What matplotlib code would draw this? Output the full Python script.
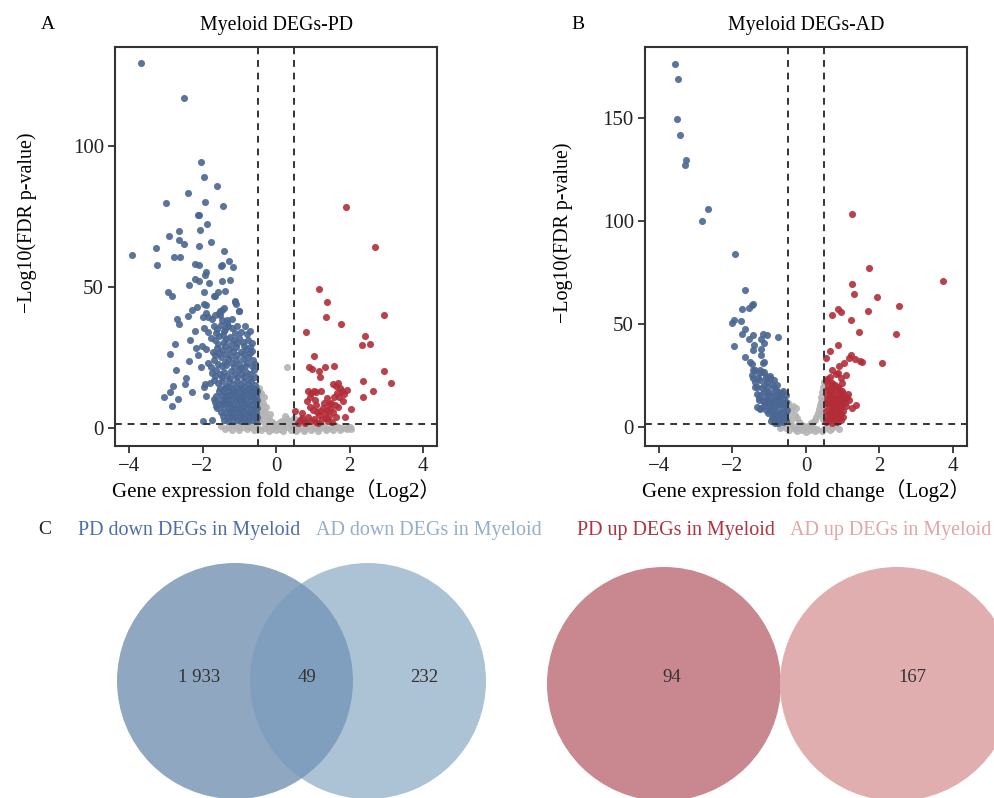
import matplotlib
matplotlib.use("Agg")
import matplotlib.pyplot as plt
from matplotlib.patches import Circle

plt.rcParams['font.family'] = ['Liberation Serif', 'Noto Sans CJK SC', 'DejaVu Sans']

# ---- panel A: PD volcano (log2 fold change, -log10 FDR) ----
pd_down = [
    (-3.66, 129.3), (-2.49, 116.9), (-2.04, 94.3), (-1.97, 89.1), (-1.61, 85.6), (-2.39, 83.2),
    (-2.99, 79.7), (-1.94, 80.1), (-1.43, 78.8), (-2.13, 75.5), (-2.10, 75.6), (-1.89, 72.2),
    (-2.64, 69.7), (-2.07, 70.2), (-2.92, 68.0), (-2.64, 66.7), (-2.49, 65.2), (-1.76, 66.0),
    (-2.09, 64.6), (-3.26, 63.7), (-1.41, 62.8), (-3.91, 61.3), (-2.78, 60.6), (-2.60, 60.7),
    (-1.28, 59.3), (-3.24, 57.8), (-2.20, 58.2), (-2.10, 57.7), (-1.50, 57.5), (-1.46, 57.9),
    (-1.17, 57.0), (-1.90, 55.1), (-1.93, 54.3), (-2.21, 52.9), (-2.09, 52.2), (-1.46, 52.1),
    (-1.25, 52.5), (-1.82, 51.3), (-2.37, 50.7), (-1.57, 48.3), (-1.39, 48.5), (-1.97, 48.0),
    (-2.94, 48.1), (-2.83, 46.8), (-1.68, 46.6), (-1.65, 46.9), (-1.12, 44.6), (-1.09, 44.0),
    (-1.91, 43.6), (-2.16, 42.8), (-2.29, 41.7), (-1.52, 41.6), (-1.00, 41.5),
    (-2.69, 38.7), (-2.63, 36.7), (-2.40, 39.7), (-2.20, 34.5), (-2.35, 31.0), (-2.75, 29.7),
    (-2.88, 26.2), (-2.72, 20.6), (-2.45, 17.6), (-2.48, 15.6), (-2.79, 15.0), (-2.88, 12.7),
    (-3.05, 10.9), (-2.84, 7.8), (-2.66, 10.2), (-2.28, 12.7), (-2.37, 23.9), (-2.17, 28.3),
    (-2.01, 29.2), (-2.13, 25.8), (-1.91, 11.3), (-1.99, 2.5), (-1.73, 2.8), (-1.41, 2.8),
    (-1.93, 15.6), (-1.95, 14.6), (-2.04, 21.7), (-1.66, 9.3), (-1.64, 7.8),
    (-1.97, 44.0), (-1.91, 40.9), (-1.99, 39.3), (-1.84, 39.3), (-1.75, 38.5), (-1.66, 40.0),
    (-1.54, 40.9), (-1.48, 41.8), (-1.41, 42.6), (-1.52, 40.0), (-1.48, 38.3), (-1.34, 38.3),
    (-1.20, 38.5), (-1.11, 44.9), (-1.01, 41.6),
    (-1.95, 35.3), (-1.85, 34.0), (-1.70, 36.0), (-1.60, 35.2), (-1.50, 36.5), (-1.40, 35.0),
    (-1.30, 36.0), (-1.20, 35.5), (-1.05, 36.2), (-0.85, 36.0), (-0.70, 34.5), (-1.78, 32.0),
    (-1.65, 31.0), (-1.55, 32.5), (-1.45, 33.0), (-1.35, 31.5), (-1.25, 32.2), (-1.15, 31.0),
    (-1.00, 32.0), (-0.90, 30.5), (-0.75, 31.0), (-0.65, 30.0), (-1.90, 28.0), (-1.72, 27.0),
    (-1.60, 28.5), (-1.48, 27.5), (-1.38, 29.0), (-1.28, 28.0), (-1.18, 27.2), (-1.08, 28.6),
    (-0.95, 27.0), (-0.82, 28.0), (-0.70, 26.5), (-1.85, 23.0), (-1.70, 24.0), (-1.58, 22.5),
    (-1.50, 25.0), (-1.40, 23.5), (-1.30, 24.5), (-1.20, 23.0), (-1.10, 24.0), (-1.00, 22.5),
    (-0.90, 24.5), (-0.78, 23.0), (-0.62, 24.0), (-1.75, 19.5), (-1.62, 20.5), (-1.52, 19.0),
    (-1.42, 20.0), (-1.33, 18.5), (-1.22, 20.2), (-1.12, 19.0), (-1.02, 20.5), (-0.92, 19.2),
    (-0.82, 20.0), (-0.70, 19.0), (-0.60, 20.5), (-1.80, 16.0), (-1.68, 17.0), (-1.58, 15.8),
    (-1.47, 16.5), (-1.37, 15.0), (-1.27, 16.8), (-1.17, 15.5), (-1.07, 16.5), (-0.97, 15.3),
    (-0.87, 16.8), (-0.77, 15.5), (-0.67, 16.5), (-0.57, 15.2),
    # extra mid-cloud points
    (-1.62, 33.8), (-1.42, 34.4), (-1.12, 33.6), (-0.95, 34.0), (-0.80, 33.2), (-1.32, 37.2),
    (-1.58, 29.8), (-1.42, 30.6), (-1.22, 29.6), (-1.05, 30.2), (-0.86, 29.2), (-0.72, 28.8),
    (-1.66, 25.8), (-1.55, 26.6), (-1.36, 26.2), (-1.22, 25.4), (-1.05, 26.0), (-0.88, 26.2),
    (-0.75, 25.2), (-0.64, 27.2), (-1.78, 21.5), (-1.46, 21.8), (-1.35, 22.2), (-1.15, 21.6),
    (-0.96, 21.2), (-0.84, 21.8), (-0.66, 22.0), (-0.56, 22.6), (-1.65, 18.4), (-1.46, 18.0),
    (-1.26, 17.8), (-1.06, 18.0), (-0.88, 18.2), (-0.72, 17.6), (-0.56, 18.0),
    (-1.52, 14.3), (-1.40, 14.0), (-1.30, 14.4), (-1.20, 13.9), (-1.08, 14.2), (-0.96, 14.0),
    (-0.86, 14.4), (-0.74, 14.0), (-0.64, 14.3), (-0.54, 13.9),
    (-1.55, 13.1), (-1.42, 12.8), (-1.31, 13.3), (-1.19, 12.9), (-1.11, 13.2), (-0.99, 12.7),
    (-0.91, 13.4), (-0.79, 12.9), (-0.71, 13.1), (-0.61, 12.8), (-0.52, 13.2),
    (-1.62, 11.4), (-1.48, 11.7), (-1.36, 11.3), (-1.25, 11.6), (-1.14, 11.4), (-1.06, 11.7),
    (-0.94, 11.3), (-0.86, 11.6), (-0.74, 11.4), (-0.66, 11.7), (-0.55, 11.3),
    (-1.70, 10.1), (-1.51, 9.9), (-1.39, 10.2), (-1.31, 9.8), (-1.19, 10.1), (-1.09, 9.9),
    (-1.01, 10.2), (-0.89, 9.8), (-0.81, 10.1), (-0.69, 9.9), (-0.61, 10.2), (-0.52, 9.8),
    (-1.56, 8.6), (-1.44, 8.4), (-1.36, 8.7), (-1.24, 8.4), (-1.16, 8.6), (-1.04, 8.3),
    (-0.96, 8.7), (-0.84, 8.4), (-0.76, 8.6), (-0.64, 8.3), (-0.55, 8.6),
    (-1.60, 7.0), (-1.41, 7.2), (-1.29, 6.9), (-1.21, 7.1), (-1.09, 6.8), (-1.01, 7.2),
    (-0.89, 6.9), (-0.81, 7.1), (-0.69, 6.8), (-0.61, 7.2), (-0.52, 6.9),
    (-1.50, 5.6), (-1.36, 5.4), (-1.24, 5.7), (-1.16, 5.4), (-1.04, 5.6), (-0.96, 5.3),
    (-0.84, 5.7), (-0.76, 5.4), (-0.64, 5.6), (-0.55, 5.4),
    (-1.45, 4.1), (-1.31, 3.9), (-1.19, 4.2), (-1.11, 3.9), (-0.99, 4.1), (-0.91, 3.8),
    (-0.79, 4.2), (-0.71, 3.9), (-0.59, 4.1), (-0.52, 3.8),
    (-1.30, 2.6), (-1.16, 2.4), (-1.04, 2.7), (-0.96, 2.4), (-0.84, 2.6), (-0.76, 2.3),
    (-0.64, 2.7), (-0.55, 2.4),
]
pd_up = [
    (1.90, 78.4), (2.68, 64.3), (1.18, 49.2), (1.39, 44.7), (1.35, 39.2), (1.77, 36.9),
    (2.94, 40.1), (0.82, 33.9), (2.41, 32.5), (2.33, 29.4), (2.57, 29.8), (1.04, 25.4),
    (0.91, 21.7), (0.97, 20.8), (1.33, 21.5), (1.58, 22.1), (1.18, 20.1), (1.20, 18.0),
    (2.94, 20.1), (3.13, 15.8), (2.38, 16.8), (2.63, 13.0), (2.38, 10.9), (2.03, 6.6),
    (1.88, 3.8), (0.52, 5.9),
    (0.88, 13.2), (0.95, 12.5), (1.02, 13.0), (1.10, 12.8), (1.22, 13.0), (0.92, 11.0),
    (1.05, 10.0), (0.85, 9.5),
    (1.55, 15.5), (1.62, 14.8), (1.70, 15.8), (1.75, 14.0), (1.80, 13.2), (1.65, 12.5),
    (1.85, 12.0), (1.92, 13.5), (1.58, 11.0), (1.72, 10.8), (1.82, 9.5), (1.50, 9.0),
    (1.60, 8.0), (1.45, 8.5), (1.68, 7.5), (1.40, 10.5),
    (0.65, 2.8), (0.72, 3.5), (0.80, 2.2), (0.88, 4.0), (0.95, 2.5), (1.02, 3.2),
    (1.10, 2.0), (1.18, 4.5), (1.25, 3.0), (1.32, 5.0), (1.38, 6.2), (1.28, 7.0),
    (1.20, 6.0), (1.12, 5.5), (1.00, 6.5), (0.92, 7.5), (1.35, 3.5), (1.45, 4.2),
    (1.55, 5.5), (1.62, 4.0), (1.48, 6.8), (1.08, 8.3), (1.30, 8.8), (0.78, 1.8),
    (0.60, 1.9), (1.42, 2.5), (1.52, 2.0), (0.70, 5.2), (1.15, 1.8),
]
pd_ns = [
    (0.29, 21.5), (-0.45, 14.0), (-0.42, 11.5), (-0.45, 9.5), (-0.40, 8.0), (-0.35, 6.5),
    (-0.30, 5.5), (-0.42, 4.5), (-0.25, 4.0), (-0.20, 3.0), (-0.15, 2.5), (-0.10, 2.0),
    (-0.05, 1.5), (0.00, 1.0), (0.05, 1.5), (0.10, 2.0), (0.15, 2.5), (0.20, 2.0),
    (0.30, 3.0), (0.35, 2.5), (0.45, 2.0), (0.48, 3.5), (-0.48, 6.0), (-0.38, 3.0),
    (-0.46, 2.5), (-0.30, 1.5), (0.40, 1.0), (-0.35, 9.0), (-0.28, 7.5),
    (-1.50, 0.6), (-1.30, 0.3), (-1.10, 0.8), (-0.90, 0.2), (-0.70, 0.5), (-0.50, 0.1),
    (-0.30, 0.0), (-0.10, -0.3), (0.10, -0.2), (0.30, 0.2), (0.50, 0.4), (0.70, 0.1),
    (0.90, 0.6), (1.10, 0.3), (1.30, 0.8), (1.50, 0.2), (1.70, 0.5), (1.90, 0.1),
    (2.00, 0.3), (0.60, -0.5), (0.80, -0.3), (1.00, -0.1), (1.20, 0.0), (1.40, -0.2),
    (0.20, 0.5), (-0.20, 0.4), (-0.60, 0.9), (-0.80, 1.0), (-1.00, 0.3), (-1.20, 0.9),
    (1.60, 0.9), (1.80, -0.1), (2.05, -0.2), (1.93, -0.3),
    (-1.40, -0.4), (-1.20, -0.6), (-1.00, -0.8), (-0.80, -0.5), (-0.60, -0.9), (-0.40, -0.7),
    (-0.20, -1.0), (0.00, -0.8), (0.20, -1.1), (0.40, -0.9), (0.55, -1.0), (0.75, -1.2),
    (0.95, -0.9), (1.15, -1.1), (1.35, -0.8), (1.55, -0.6), (1.75, -0.9), (-0.15, 5.0),
    (0.25, 4.2), (-0.40, 12.5), (-0.33, 11.0),
]

# ---- panel B: AD volcano ----
ad_down = [
    (-3.56, 176.1), (-3.49, 168.9), (-3.50, 149.5), (-3.43, 141.9), (-3.27, 129.6),
    (-3.29, 127.3), (-2.67, 106.0), (-2.82, 100.0), (-1.94, 84.0), (-1.66, 66.3),
    (-1.43, 59.6), (-1.46, 59.2), (-1.55, 57.6), (-1.73, 57.1), (-1.97, 51.9), (-2.00, 50.6),
    (-1.77, 51.6), (-1.66, 47.7), (-1.74, 45.1), (-1.43, 44.5), (-1.17, 45.1), (-1.05, 44.5),
    (-0.76, 43.7), (-1.54, 42.7), (-1.23, 42.6), (-1.13, 40.6), (-1.97, 39.3), (-1.41, 39.7),
    (-1.43, 37.4), (-1.22, 37.7), (-1.65, 33.8), (-1.22, 34.8), (-1.13, 31.7), (-1.52, 31.7),
    (-1.47, 30.4), (-1.43, 27.7), (-1.26, 27.9), (-1.13, 26.8), (-1.18, 31.2),
    (-1.47, 25.2), (-1.38, 27.7), (-1.29, 26.1), (-1.20, 26.9),
    (-1.38, 22.0), (-1.24, 22.8), (-1.06, 22.0), (-0.97, 23.6), (-0.88, 22.8),
    (-1.33, 19.6), (-1.20, 18.8), (-1.02, 19.6), (-0.88, 19.6), (-0.75, 17.1), (-0.66, 16.3),
    (-0.79, 14.7), (-0.93, 13.1), (-1.06, 17.1), (-1.24, 15.5),
    (-1.29, 13.1), (-1.24, 9.1), (-1.11, 11.5), (-0.97, 9.1), (-0.84, 10.7), (-0.70, 12.3),
    (-0.61, 9.9), (-0.56, 6.6), (-0.70, 5.8), (-0.84, 6.6), (-0.93, 4.2), (-0.79, 3.4),
    (-0.66, 3.4), (-0.56, 4.2), (-0.88, 8.3), (-1.02, 6.6),
    (-0.55, 12.0), (-0.52, 8.5), (-0.58, 10.5), (-0.53, 3.0), (-0.62, 2.5), (-0.75, 2.2),
    (-0.85, 2.0), (-1.43, 23.6), (-1.38, 19.6), (-1.33, 16.0), (-1.29, 13.9), (-1.33, 9.6),
    (-1.24, 8.6), (-0.95, 16.5), (-0.82, 17.8), (-0.70, 14.5), (-1.10, 14.0), (-1.00, 11.5),
    (-0.62, 7.5), (-0.75, 8.8), (-0.90, 12.0), (-1.15, 20.5), (-0.98, 25.0),
    (-0.60, 5.0), (-0.68, 6.8), (-0.78, 5.2), (-0.90, 6.0), (-0.98, 7.8), (-1.08, 8.5),
    (-1.15, 10.2), (-1.05, 13.0), (-0.95, 10.5), (-0.85, 12.5), (-0.75, 11.0), (-0.65, 11.2),
    (-0.60, 13.5), (-0.72, 15.8), (-0.88, 15.0), (-1.00, 15.8), (-1.15, 16.8), (-1.18, 12.5),
    (-0.55, 15.5), (-0.62, 17.5), (-0.80, 20.5), (-0.92, 21.0), (-1.08, 23.5), (-0.70, 4.0),
    (-0.85, 3.8), (-0.95, 2.8), (-1.10, 24.8), (-1.30, 24.0),
]
ad_up = [
    (1.26, 103.6), (1.71, 77.4), (3.72, 70.9), (1.26, 69.4), (1.31, 64.6), (1.92, 63.3),
    (2.52, 58.7), (0.88, 57.4), (0.96, 55.8), (0.72, 54.2), (1.70, 56.2), (1.23, 51.9),
    (1.43, 46.3), (2.45, 45.3), (0.87, 40.0), (0.65, 37.0), (1.22, 35.0), (1.16, 33.3),
    (0.55, 33.3), (1.34, 32.9), (1.48, 32.2), (1.52, 31.4), (1.03, 31.1), (2.07, 30.9),
    (0.86, 26.4), (0.82, 25.7), (0.66, 24.4), (0.57, 23.3), (0.70, 21.2), (0.74, 19.6),
    (0.99, 21.2),
    (0.57, 18.0), (0.66, 17.1), (0.80, 18.0), (0.91, 18.3), (0.84, 15.5), (0.71, 14.7),
    (0.57, 13.1), (0.80, 12.3), (0.93, 13.1), (1.07, 13.4), (1.16, 13.1), (0.98, 11.2),
    (0.84, 9.9), (0.71, 9.1), (0.62, 6.6), (0.75, 5.8), (0.89, 6.6), (0.80, 3.4),
    (0.66, 3.4), (0.57, 5.0), (1.26, 9.4), (1.37, 10.5), (1.12, 14.7), (1.02, 16.4),
    (0.55, 8.0), (0.60, 10.5), (0.68, 11.8), (0.75, 8.2), (0.88, 8.5), (0.95, 7.0),
    (0.65, 15.8), (0.78, 14.0), (0.92, 16.0), (0.55, 2.5), (0.70, 2.0), (0.85, 2.3),
    (0.95, 3.5), (1.00, 5.0), (0.60, 20.0), (0.55, 22.5), (0.72, 21.0), (0.88, 19.5),
    (0.98, 17.5), (1.05, 12.0), (0.62, 12.5), (0.76, 10.8), (0.70, 27.5), (0.90, 29.5),
    (1.10, 25.5), (0.95, 24.0),
    (0.60, 4.0), (0.68, 5.2), (0.82, 5.0), (0.92, 4.8), (1.02, 8.0), (1.10, 10.0),
    (0.58, 15.0), (0.72, 16.5), (0.86, 11.5), (0.68, 8.0), (0.62, 18.5), (0.80, 20.5),
    (0.90, 14.5), (1.00, 14.0), (1.15, 16.0), (0.74, 12.8), (0.96, 9.8), (0.58, 11.5),
]
ad_ns = [
    (-0.45, 9.5), (-0.40, 7.8), (-0.35, 10.2), (-0.30, 6.0), (-0.25, 4.5), (-0.42, 3.5),
    (-0.48, 5.5), (-0.20, 2.5), (-0.15, 1.5), (-0.10, 0.8), (-0.05, 0.3), (0.00, 0.2),
    (0.05, 0.5), (0.10, 0.9), (0.15, 1.8), (0.20, 2.5), (0.25, 3.5), (0.28, 5.0),
    (0.32, 7.0), (0.35, 9.0), (0.40, 12.0), (0.42, 14.5), (0.45, 17.0), (0.47, 19.5),
    (0.48, 22.0), (0.38, 10.5), (0.44, 8.0), (0.46, 4.0), (-0.46, 1.5), (-0.35, 0.5),
    (-0.55, -0.5), (-0.30, -1.0), (-0.10, -1.5), (0.10, -1.2), (0.30, -1.0), (0.50, -0.8),
    (0.70, -0.5), (0.90, -0.8), (-0.70, -0.3), (0.60, 0.5), (0.80, 1.0), (-0.65, 0.8),
    (0.20, -0.5), (-0.20, -0.6), (-0.27, 9.1), (0.45, 12.5),
    (-0.45, -1.5), (-0.25, -2.0), (0.00, -2.2), (0.25, -1.8), (0.45, -2.0), (0.65, -1.6),
    (-0.50, 11.5), (0.42, 6.0), (0.48, 9.5),
]

# ---- panel C: Venn counts ----
down_counts = ["1 933", "49", "232"]
up_counts = ["94", "167"]
set_names = ["PD down DEGs in Myeloid", "AD down DEGs in Myeloid",
             "PD up DEGs in Myeloid", "AD up DEGs in Myeloid"]

blue = "#4a6692"
red = "#b32d38"
grey = "#b4b4b4"
dark = "#333333"

fig = plt.figure(figsize=(9.95, 7.98), dpi=100)


def volcano(rect, down, up, ns, ylim, yticks, title, letter, ylab_pos):
    ax = fig.add_axes(rect)
    for pts, c in ((ns, grey), (down, blue), (up, red)):
        xs, ys = zip(*pts)
        ax.scatter(xs, ys, s=26, color=c, alpha=0.9, linewidths=0, zorder=2)
    ax.axvline(-0.5, color=dark, lw=1.4, ls=(0, (3.5, 3)), zorder=3)
    ax.axvline(0.5, color=dark, lw=1.4, ls=(0, (3.5, 3)), zorder=3)
    ax.axhline(1.3, color=dark, lw=1.4, ls=(0, (3.5, 3)), zorder=3)
    ax.set_xlim(-4.38, 4.38)
    ax.set_ylim(*ylim)
    ax.set_xticks([-4, -2, 0, 2, 4])
    ax.set_yticks(yticks)
    for sp in ax.spines.values():
        sp.set_linewidth(1.5)
        sp.set_color(dark)
    ax.tick_params(labelsize=15, width=1.3, length=5, color=dark, labelcolor="#222222", pad=3)
    ax.set_xlabel("Gene expression fold change（Log2）", fontsize=15, labelpad=2)
    ax.set_ylabel("−Log10(FDR p-value)", fontsize=14.4)
    ax.yaxis.set_label_coords(*ylab_pos)
    ax.set_title(title, fontsize=14.3, pad=12)
    ax.text(-0.23, 1.045, letter, transform=ax.transAxes, fontsize=14)
    return ax


volcano([0.1156, 0.4411, 0.3236, 0.5], pd_down, pd_up, pd_ns, (-6.4, 135),
        [0, 50, 100], "Myeloid DEGs-PD", "A", (-0.243, 0.56))
volcano([0.6482, 0.4411, 0.3236, 0.5], ad_down, ad_up, ad_ns, (-9.2, 184.5),
        [0, 50, 100, 150], "Myeloid DEGs-AD", "B", (-0.222, 0.535))

# Venn diagrams in pixel-like coordinates
vax = fig.add_axes([0, 0, 1, 300 / 798])
vax.set_xlim(0, 995)
vax.set_ylim(798, 498)
vax.set_aspect("equal")
vax.axis("off")

vax.add_patch(Circle((235, 681), 118, facecolor="#446c99", alpha=0.6, lw=0))
vax.add_patch(Circle((368, 681), 118, facecolor="#769bbc", alpha=0.6, lw=0))
vax.add_patch(Circle((664, 684), 117, facecolor="#c9888f", lw=0))
vax.add_patch(Circle((897, 684), 117, facecolor="#e0aeae", lw=0))

for label, xpos in zip(down_counts, [199, 307, 424]):
    vax.text(xpos, 678, label, ha="center", va="center", fontsize=13.5, color=dark)
for label, xpos in zip(up_counts, [672, 912]):
    vax.text(xpos, 678, label, ha="center", va="center", fontsize=13.5, color=dark)

name_colors = ["#4d6fa6", "#93aecb", "#b0323f", "#e2a5a8"]
for name, c, xpos in zip(set_names, name_colors, [189, 429, 676, 891]):
    vax.text(xpos, 530, name, ha="center", va="center", fontsize=14.4, color=c)
vax.text(45, 530, "C", ha="center", va="center", fontsize=14, color="#222222")

fig.savefig("out.png", dpi=100)
